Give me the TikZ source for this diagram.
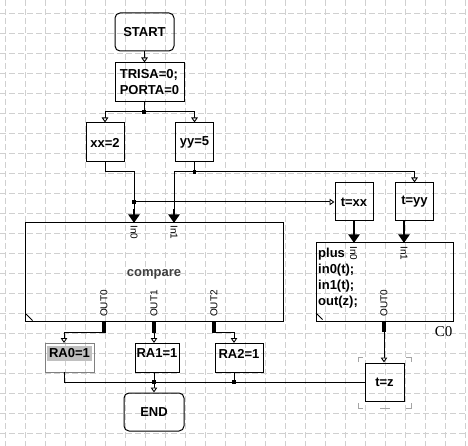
\documentclass[tikz,border=0pt]{standalone}
\usepackage{fontspec}
\setmainfont{Liberation Sans}
\newfontfamily\cfont{Liberation Serif}
\usetikzlibrary{arrows.meta,calc}
\definecolor{gridc}{RGB}{208,208,208}
\definecolor{cmpc}{RGB}{64,64,64}
\definecolor{selc}{RGB}{128,128,128}
\definecolor{hlc}{RGB}{192,192,192}
\definecolor{framec}{RGB}{165,165,165}
\begin{document}
\begin{tikzpicture}[x=1pt,y=-1pt,
  gridline/.style={draw=gridc, line width=0.8pt, dash pattern=on 6pt off 3pt},
  blk/.style={draw, line width=1pt, inner sep=0pt, font=\fontsize{13}{16}\selectfont\bfseries, align=left},
  term/.style={blk, rounded corners=5pt},
  txt/.style={inner sep=0pt, font=\fontsize{13}{16}\selectfont\bfseries},
  wire/.style={draw, line width=1pt},
  oarrow/.style={wire, -{Triangle[open, fill=white, length=5pt, width=6.5pt, line width=0.9pt]}},
  tarrow/.style={draw, line width=2.6pt, -{Triangle[length=8.5pt, width=11pt]}},
  stub/.style={draw, line width=4.5pt},
  dot/.style={fill, rectangle, minimum size=3.6pt, inner sep=0pt},
  portlbl/.style={font=\fontsize{10}{10}\selectfont, inner sep=0pt},
  selmark/.style={draw=framec, line width=1pt},
]
\useasboundingbox (0,0) rectangle (468,446);
\fill[white] (0,0) rectangle (468,446);
% grid
\foreach \gx in {5,25,...,465} \draw[gridline] (\gx,0) -- (\gx,446);
\foreach \gy in {13,33,...,433} \draw[gridline] (0,\gy) -- (468,\gy);

% blocks
\node[term, minimum width=59pt, minimum height=38pt] (start) at (144.5,32) {START};
\node[blk, minimum width=69pt, minimum height=39pt] (trisa) at (149.5,82.5) {TRISA=0;\\PORTA=0};
\node[blk, minimum width=38pt, minimum height=39pt] (xx) at (105,142.5) {xx=2};
\node[blk, minimum width=38pt, minimum height=39pt] (yy) at (194.5,142.5) {yy=5};
\node[blk, minimum width=258pt, minimum height=98pt] (cmp) at (154,272) {};
\node[txt, text=cmpc, anchor=base] (cmplbl) at (154,276.5) {compare};
\node[blk, minimum width=38pt, minimum height=38pt] (txx) at (354,202) {t=xx};
\node[blk, minimum width=38pt, minimum height=38pt] (tyy) at (414.5,202) {t=yy};
\node[blk, minimum width=137pt, minimum height=78pt] (plus) at (384.5,282) {};
\node[txt, align=left, anchor=north west, font=\fontsize{13}{15.8}\selectfont\bfseries] (pluscode) at (318,248) {plus\\in0(t);\\in1(t);\\out(z);};
\node[font=\cfont\fontsize{15}{15}\selectfont, inner sep=0pt] (c0) at (443.5,332) {C0};
\node[blk, minimum width=39pt, minimum height=38pt] (tz) at (384.5,382) {t=z};
\node[blk, draw=selc, minimum width=49pt, minimum height=29pt] (ra0) at (69.5,357.5) {};
\node[txt, fill=hlc, minimum width=44.5pt, minimum height=15.5pt] (ra0t) at (69.5,353.5) {RA0=1};
\node[blk, minimum width=44pt, minimum height=29pt] (ra1) at (157,357.5) {};
\node[txt] (ra1t) at (157,353.5) {RA1=1};
\node[blk, minimum width=48pt, minimum height=29pt] (ra2) at (239,357.5) {};
\node[txt] (ra2t) at (239,353.5) {RA2=1};
\node[term, minimum width=60pt, minimum height=38pt] (end) at (154,412) {END};

% corner ticks
\draw[wire] ($(cmp.south west)+(1,-8)$) -- ($(cmp.south west)+(8,-1)$);
\draw[wire] ($(plus.south west)+(1,-8)$) -- ($(plus.south west)+(7,-2)$);

% port labels
\node[portlbl, rotate=-90] (cin0l) at (134,232.5) {In0};
\node[portlbl, rotate=-90] (cin1l) at (174,232.5) {In1};
\node[portlbl, rotate=90] (cout0l) at (104,303.5) {OUT0};
\node[portlbl, rotate=90] (cout1l) at (154,303.5) {OUT1};
\node[portlbl, rotate=90] (cout2l) at (214,303.5) {OUT2};
\node[portlbl, rotate=-90] (pin0l) at (353.5,253.5) {In0};
\node[portlbl, rotate=-90] (pin1l) at (404,253.5) {In1};
\node[portlbl, rotate=90] (pout0l) at (384,303) {OUT0};

% port coordinates
\coordinate (cin0) at (134,223);
\coordinate (cin1) at (174,223);
\coordinate (cout0) at (104,321);
\coordinate (cout1) at (154,321);
\coordinate (cout2) at (214,321);
\coordinate (pin0) at (354,243);
\coordinate (pin1) at (404,243);
\coordinate (pout0) at (384,321);
\coordinate (ra0in) at (64,343);
\coordinate (ra1in) at (154,343);
\coordinate (ra2in) at (234,343);
\coordinate (ra0out) at (64,372);
\coordinate (ra1out) at (154,372);
\coordinate (ra2out) at (234,372);
\coordinate (jt) at (144,112);
\coordinate (jx) at (134,202);
\coordinate (jy) at (194.5,172);
\coordinate (jr1) at (154,382);
\coordinate (jr2) at (234,382);

% connectors
\draw[oarrow] (start.south) -- (start.south |- trisa.north);
\draw[wire] (trisa.south -| jt) -- (jt);
\draw[oarrow] (jt) -| (xx.north);
\draw[oarrow] (jt) -| (yy.north);
\draw[wire] (xx.south) -- (105,172) -- (134,172) -- (cin0);
\draw[tarrow] (134,209) -- (cin0);
\draw[oarrow] (jx) -- (jx -| txx.west);
\draw[wire] (yy.south) -- (jy) -- (174,172) -- (cin1);
\draw[tarrow] (174,209) -- (cin1);
\draw[oarrow] (jy) -| (tyy.north);
\draw[tarrow] (txx.south) -- (pin0);
\draw[tarrow] (tyy.south -| pin1) -- (pin1);

\draw[stub] (cout0) -- ++(0,11.5);
\draw[stub] (cout1) -- ++(0,11.5);
\draw[stub] (cout2) -- ++(0,11.5);
\draw[oarrow] (104,332) -| (ra0in);
\draw[oarrow] (154,332) -- (ra1in);
\draw[oarrow] (214,332) -| (ra2in);

\draw[stub] (pout0) -- ++(0,11);
\draw[oarrow] (384,331) -- (384,331 |- tz.north);

\draw[wire] (ra0out) -- (jr1 -| ra0out) -- (tz.west);
\draw[wire] (ra1out) -- (jr1);
\draw[wire] (ra2out) -- (jr2);
\draw[oarrow] (jr1) -- (end.north);

\node[dot] (djt) at (jt) {};
\node[dot] (djx) at (jx) {};
\node[dot] (djy) at (jy) {};
\node[dot] (djr1) at (jr1) {};
\node[dot] (djr2) at (jr2) {};

% selection marks round t=z
\draw[selmark] (358,362) -- (358,357) -- (363,357);
\draw[selmark] (406,357) -- (411,357) -- (411,362);
\draw[selmark] (358,403) -- (358,408) -- (363,408);
\draw[selmark] (406,408) -- (411,408) -- (411,403);
\draw[selmark] (380,408) -- (390,408);
\end{tikzpicture}
\end{document}
